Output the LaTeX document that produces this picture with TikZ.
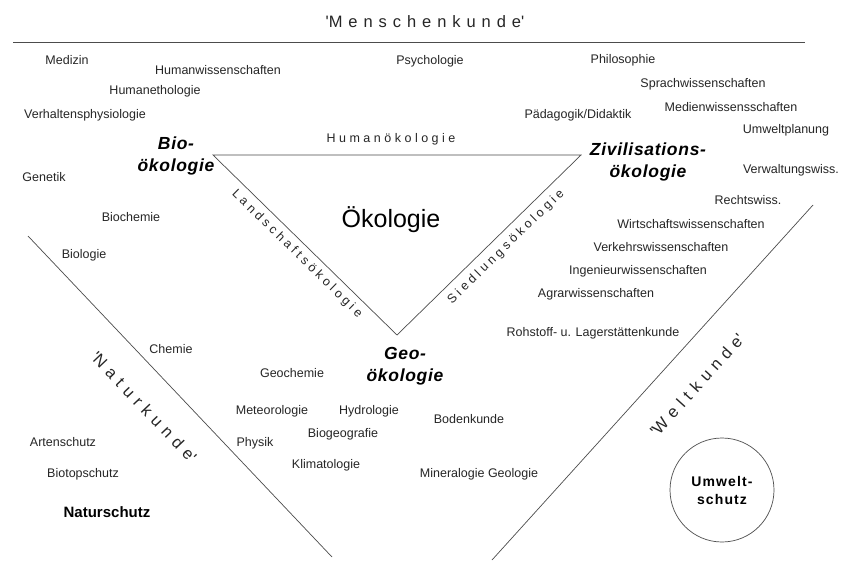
\documentclass[tikz,border=0pt]{standalone}
\usepackage{fontspec}
\setmainfont{Liberation Sans}
\newfontfamily\weitfont[LetterSpace=36]{Liberation Sans}
\newfontfamily\halbweitfont[LetterSpace=28]{Liberation Sans}
\newfontfamily\hauptfont[LetterSpace=4]{Liberation Sans}
\newfontfamily\kreisfont[LetterSpace=8]{Liberation Sans}
\newcommand{\hochkomma}{\textquotesingle}
\begin{document}
\begin{tikzpicture}[x=1pt,y=-1pt,
	fach/.style={font=\fontsize{12.5}{15}\selectfont, text=black!85, inner sep=0pt},
	haupt/.style={font=\hauptfont\fontsize{17.5}{22}\selectfont\bfseries\itshape, align=center, inner sep=0pt},
	kunde/.style={font=\weitfont\fontsize{16.5}{20}\selectfont, text=black!85, inner sep=0pt},
	kante/.style={font=\halbweitfont\fontsize{12.5}{15}\selectfont, text=black!85, inner sep=0pt},
	strich/.style={draw=black!70, line width=0.7pt}]
			\fill[white] (0,0) rectangle (853,562);
			\useasboundingbox (0,0) rectangle (853,562);

			% Menschenkunde
			\coordinate (obenL) at (13,42);
			\coordinate (obenR) at (805,42);
			\draw[strich] (obenL) -- (obenR);
			\node[kunde] (menschen) at (425,22) {\hochkomma Menschenkunde\hochkomma};

			\node[fach] (medizin) at (67,60) {Medizin};
			\node[fach] (humanwiss) at (218,70) {Humanwissenschaften};
			\node[fach] (humaneth) at (155,91) {Humanethologie};
			\node[fach] (verhalten) at (85,115) {Verhaltensphysiologie};
			\node[fach] (psycho) at (430,61) {Psychologie};
			\node[fach] (philo) at (623,60) {Philosophie};
			\node[fach] (sprach) at (703,84) {Sprachwissenschaften};
			\node[fach] (medien) at (731,107) {Medienwissensschaften};
			\node[fach] (paed) at (578,115) {Pädagogik/Didaktik};
			\node[fach] (umweltpl) at (786,130) {Umweltplanung};

			% Dreieck
			\coordinate (bioE) at (213,155);
			\coordinate (zivE) at (581,155);
			\coordinate (geoE) at (397,335);
			\draw[strich] (bioE) -- (zivE) -- (geoE) -- cycle;

			\node[kante] (humanoek) at (391,139) {Humanökologie};
			\node[kante, rotate=-44.4] (landschaft) at (297,254) {Landschaftsökologie};
			\node[kante, rotate=44.4] (siedlung) at (506,247) {Siedlungsökologie};
			\node[font=\fontsize{25}{30}\selectfont, inner sep=0pt] (oekologie) at (391,220) {Ökologie};

			\node[haupt] (bio) at (176,156) {Bio-\\ökologie};
			\node[haupt] (ziv) at (648,162) {Zivilisations-\\ökologie};
			\node[haupt] (geo) at (405,366) {Geo-\\ökologie};

			% rechts
			\node[fach] (verwaltung) at (791,170) {Verwaltungswiss.};
			\node[fach] (recht) at (748,200) {Rechtswiss.};
			\node[fach] (wirtschaft) at (691,224) {Wirtschaftswissenschaften};
			\node[fach] (verkehr) at (661,247) {Verkehrswissenschaften};
			\node[fach] (ingenieur) at (638,271) {Ingenieurwissenschaften};
			\node[fach] (agrar) at (596,294) {Agrarwissenschaften};
			\node[fach] (rohstoff) at (593,333) {Rohstoff- u. Lagerstättenkunde};

			% links
			\node[fach] (genetik) at (44,177) {Genetik};
			\node[fach] (biochemie) at (131,217) {Biochemie};
			\node[fach] (biologie) at (84,255) {Biologie};
			\node[fach] (chemie) at (171,349) {Chemie};
			\node[fach] (artenschutz) at (63,442) {Artenschutz};
			\node[fach] (biotop) at (83,474) {Biotopschutz};
			\node[font=\fontsize{15}{18}\selectfont\bfseries, inner sep=0pt] (naturschutz) at (107,512) {Naturschutz};

			% unten
			\node[fach] (geochemie) at (292,373) {Geochemie};
			\node[fach] (meteo) at (272,411) {Meteorologie};
			\node[fach] (hydro) at (369,411) {Hydrologie};
			\node[fach] (biogeo) at (343,434) {Biogeografie};
			\node[fach] (physik) at (255,443) {Physik};
			\node[fach] (klima) at (326,465) {Klimatologie};
			\node[fach] (boden) at (469,419) {Bodenkunde};
			\node[fach] (mineral) at (479,474) {Mineralogie Geologie};

			% Naturkunde / Weltkunde
			\coordinate (naturO) at (28,236);
			\coordinate (naturU) at (332,557);
			\draw[strich] (naturO) -- (naturU);
			\node[kunde, rotate=-46.6] (natur) at (144,407) {\hochkomma Naturkunde\hochkomma};

			\coordinate (weltO) at (813,205);
			\coordinate (weltU) at (492,560);
			\draw[strich] (weltO) -- (weltU);
			\node[kunde, rotate=47.9] (welt) at (697,385) {\hochkomma Weltkunde\hochkomma};

			\node[circle, draw=black!70, line width=0.7pt, minimum size=104pt, inner sep=0pt, align=center,
				font=\kreisfont\fontsize{14}{18}\selectfont\bfseries] (umwelt) at (722,490) {Umwelt-\\schutz};

		\end{tikzpicture}
\end{document}
